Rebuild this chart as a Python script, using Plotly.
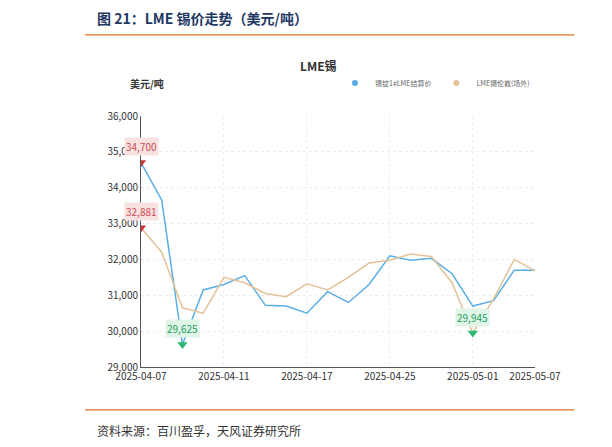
import plotly.graph_objects as go

dates = ["2025-04-07","2025-04-08","2025-04-09","2025-04-10","2025-04-11","2025-04-14","2025-04-15",
         "2025-04-16","2025-04-17","2025-04-22","2025-04-23","2025-04-24","2025-04-25","2025-04-28",
         "2025-04-29","2025-04-30","2025-05-01","2025-05-02","2025-05-06","2025-05-07"]
settle = [34700,33650,29625,31150,31300,31550,30720,30700,30500,31100,30800,31300,32100,31980,
          32030,31600,30700,30850,31700,31700]
ingot = [32881,32200,30650,30500,31500,31350,31050,30960,31320,31150,31500,31900,31980,32150,
         32080,31350,29945,30900,32000,31680]
tick_dates = ["2025-04-07","2025-04-11","2025-04-17","2025-04-25","2025-05-01","2025-05-07"]
name1 = "锡锭1#LME结算价"
name2 = "LME锡伦敦(场外)"

blue = "#5aaee6"
tan = "#e3c398"
fig = go.Figure()
fig.add_trace(go.Scatter(x=dates, y=settle, name=name1, mode="lines", showlegend=False,
                         line=dict(color=blue, width=1.5)))
fig.add_trace(go.Scatter(x=dates, y=ingot, name=name2, mode="lines", showlegend=False,
                         line=dict(color=tan, width=1.5)))
fig.add_trace(go.Scatter(x=[None], y=[None], name=name1, mode="markers",
                         marker=dict(color=blue, size=6)))
fig.add_trace(go.Scatter(x=[None], y=[None], name=name2, mode="markers",
                         marker=dict(color=tan, size=6)))

def pin(x, y, color, bg, fc):
    fig.add_trace(go.Scatter(x=[x], y=[y], mode="markers", showlegend=False, hoverinfo="skip",
                             marker=dict(symbol="triangle-down", size=9, color=color)))
    fig.add_annotation(x=x, y=y, text=f"{y:,}", showarrow=False, yshift=16,
                       font=dict(size=10, color=fc), bgcolor=bg)

pin(dates[0], settle[0], "#d0343a", "#f8e1e1", "#d04a50")
pin(dates[0], ingot[0], "#d0343a", "#f8e1e1", "#d04a50")
pin(dates[2], settle[2], "#2cb872", "#def5e8", "#1f9e5a")
pin(dates[16], ingot[16], "#2cb872", "#def5e8", "#1f9e5a")

fig.add_annotation(xref="paper", yref="paper", x=0.45, y=1.203, yanchor="middle", text="<b>LME锡</b>",
                   showarrow=False, font=dict(size=12, color="#333"))
fig.add_annotation(xref="paper", yref="paper", x=0.015, y=1.131, yanchor="middle", xanchor="center",
                   text="<b>美元/吨</b>", showarrow=False, font=dict(size=10, color="#333"))
fig.add_annotation(xref="paper", yref="paper", x=-0.117, y=1.39, yanchor="middle", xanchor="left",
                   text="<b>图 21：LME 锡价走势（美元/吨）</b>", showarrow=False,
                   font=dict(size=14, color="#1f3864"))
fig.add_annotation(xref="paper", yref="paper", x=-0.117, y=-0.251, yanchor="middle", xanchor="left",
                   text="资料来源：百川盈孚，天风证券研究所", showarrow=False,
                   font=dict(size=12, color="#333"))
fig.add_shape(type="line", xref="paper", yref="paper", x0=-0.142, x1=1.1, y0=1.323, y1=1.323,
              line=dict(color="#e07020", width=1.2))
fig.add_shape(type="line", xref="paper", yref="paper", x0=-0.142, x1=1.1, y0=-0.171, y1=-0.171,
              line=dict(color="#e07020", width=1.2))

fig.update_layout(
    width=612, height=447, paper_bgcolor="white", plot_bgcolor="white",
    margin=dict(l=133, r=85, t=108, b=88),
    font=dict(family="Noto Sans CJK SC", color="#333"),
    legend=dict(orientation="h", x=1.0, xanchor="right", y=1.131, yanchor="middle",
                font=dict(size=7, color="#666"), itemwidth=30),
    showlegend=True,
)
fig.update_xaxes(type="category", tickmode="array", tickvals=tick_dates, ticktext=tick_dates,
                 showgrid=True, gridcolor="#eeeeee", griddash="dot", showline=True, linecolor="#555",
                 tickfont=dict(size=10, color="#333"), ticks="", range=[0, 19])
fig.update_yaxes(range=[29000, 36000], dtick=1000, tickformat=",", showgrid=True, gridcolor="#eeeeee",
                 griddash="dot", showline=True, linecolor="#555", tickfont=dict(size=10, color="#333"),
                 zeroline=False)
fig.write_html("out.html")
